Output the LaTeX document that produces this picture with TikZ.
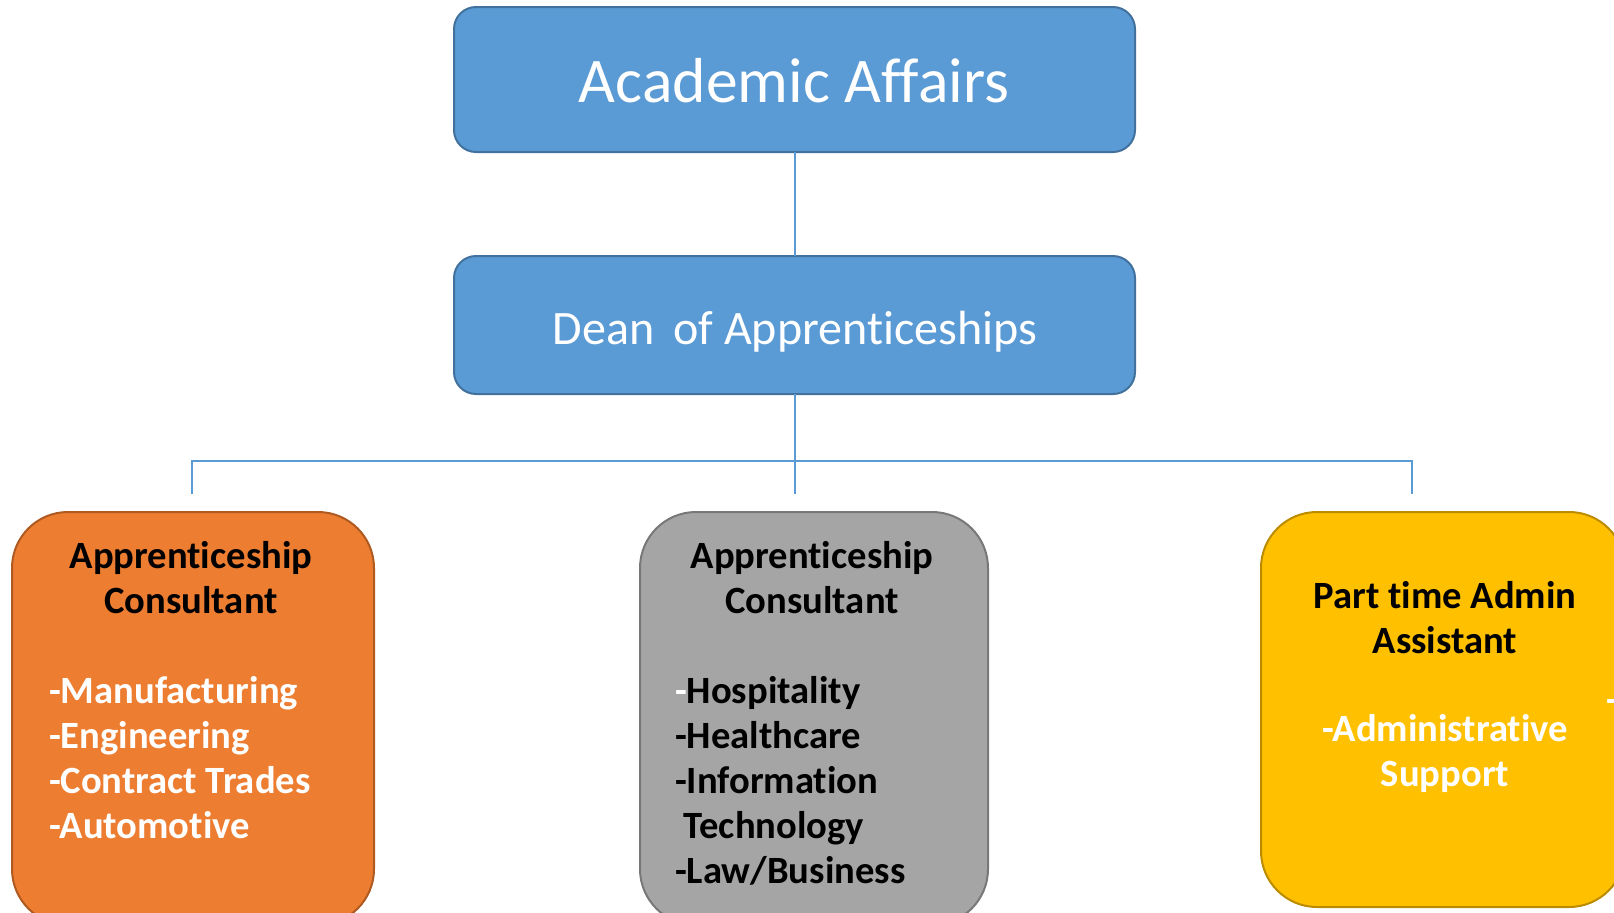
\documentclass[tikz,border=0pt]{standalone}
\usepackage{fontspec}
\setmainfont[RawFeature={-liga;-clig;-calt;-dlig}]{Carlito}

\definecolor{deptblue}{HTML}{5B9BD5}
\definecolor{deptblueline}{HTML}{41719C}
\definecolor{consorange}{HTML}{ED7D31}
\definecolor{consorangeline}{HTML}{AE5A21}
\definecolor{consgray}{HTML}{A5A5A5}
\definecolor{consgrayline}{HTML}{787878}
\definecolor{adminyellow}{HTML}{FFC000}
\definecolor{adminyellowline}{HTML}{BC8C00}

\begin{document}
\begin{tikzpicture}[x=0.5pt,y=-0.5pt,
    every node/.style={inner sep=0pt, outer sep=0pt},
    headbox/.style={draw=deptblueline, fill=deptblue, line width=1pt,
      rounded corners=11pt, minimum width=340.5pt, text=white},
    staffbox/.style={line width=1pt, rounded corners=28pt},
    link/.style={draw=deptblue, line width=1pt},
    boxtext/.style={font=\fontsize{19.3}{22.5}\selectfont\bfseries}]
    \useasboundingbox (0,0) rectangle (1614,912);
    \clip (0,0) rectangle (1614,912);
    % top of the chart
    \node [headbox, minimum height=72.5pt] (acad) at (794.5,79.5) {};
    \node [font=\fontsize{31.8}{37}\selectfont, text=white, anchor=base]
      (acadtext) at (794,102) {Academic Affairs};
    \node [headbox, minimum height=69pt] (dean) at (794.5,325) {};
    \node [font=\fontsize{24}{29}\selectfont, text=white, anchor=base]
      (deantext) at (795,344) {Dean\, of Apprenticeships};
    % staff boxes
    \node [staffbox, draw=consorangeline, fill=consorange,
      minimum width=181pt, minimum height=206.5pt] (mfg) at (193,718.5) {};
    \node [staffbox, draw=consgrayline, fill=consgray,
      minimum width=174pt, minimum height=206.5pt] (svc) at (814,718.5) {};
    \node [staffbox, draw=adminyellowline, fill=adminyellow,
      minimum width=182pt, minimum height=197.5pt] (admin) at (1443,709.5) {};
    % connectors
    \coordinate (dropL) at (192,494);
    \coordinate (dropR) at (1412,494);
    \coordinate (busL) at (192,461);
    \coordinate (busR) at (1412,461);
    \draw [link] (acad) -- (dean);
    \draw [link] (dean.south) -- (dean.south |- dropL);
    \draw [link] (dropL) -- (busL) -- (busR) -- (dropR);
    % orange box text
    \node [boxtext, anchor=base] (mfgtitle) at (191,568)
      {\begin{tabular}[t]{@{}c@{}}Apprenticeship\\Consultant\end{tabular}};
    \node [boxtext, text=white, anchor=base west] (mfglist) at (49,703)
      {\begin{tabular}[t]{@{}l@{}}-Manufacturing\\-Engineering\\-Contract Trades\\-Automotive\end{tabular}};
    % gray box text
    \node [boxtext, anchor=base] (svctitle) at (812,568)
      {\begin{tabular}[t]{@{}c@{}}Apprenticeship\\Consultant\end{tabular}};
    \node [boxtext, anchor=base west] (svclist) at (675,703)
      {\begin{tabular}[t]{@{}l@{}}\textcolor{white}{-}Hospitality\\-Healthcare\\-Information\\\ Technology\\-Law/Business\end{tabular}};
    % yellow box text
    \node [boxtext, anchor=base] (admintitle) at (1445,608)
      {\begin{tabular}[t]{@{}c@{}}Part time Admin\\Assistant\end{tabular}};
    \node [boxtext, text=white, anchor=base] (adminlist) at (1445,741)
      {\begin{tabular}[t]{@{}c@{}}-Administrative\\Support\end{tabular}};
    \node [boxtext, text=white, anchor=base west] (nextlist) at (1606,712) {-};
\end{tikzpicture}
\end{document}
